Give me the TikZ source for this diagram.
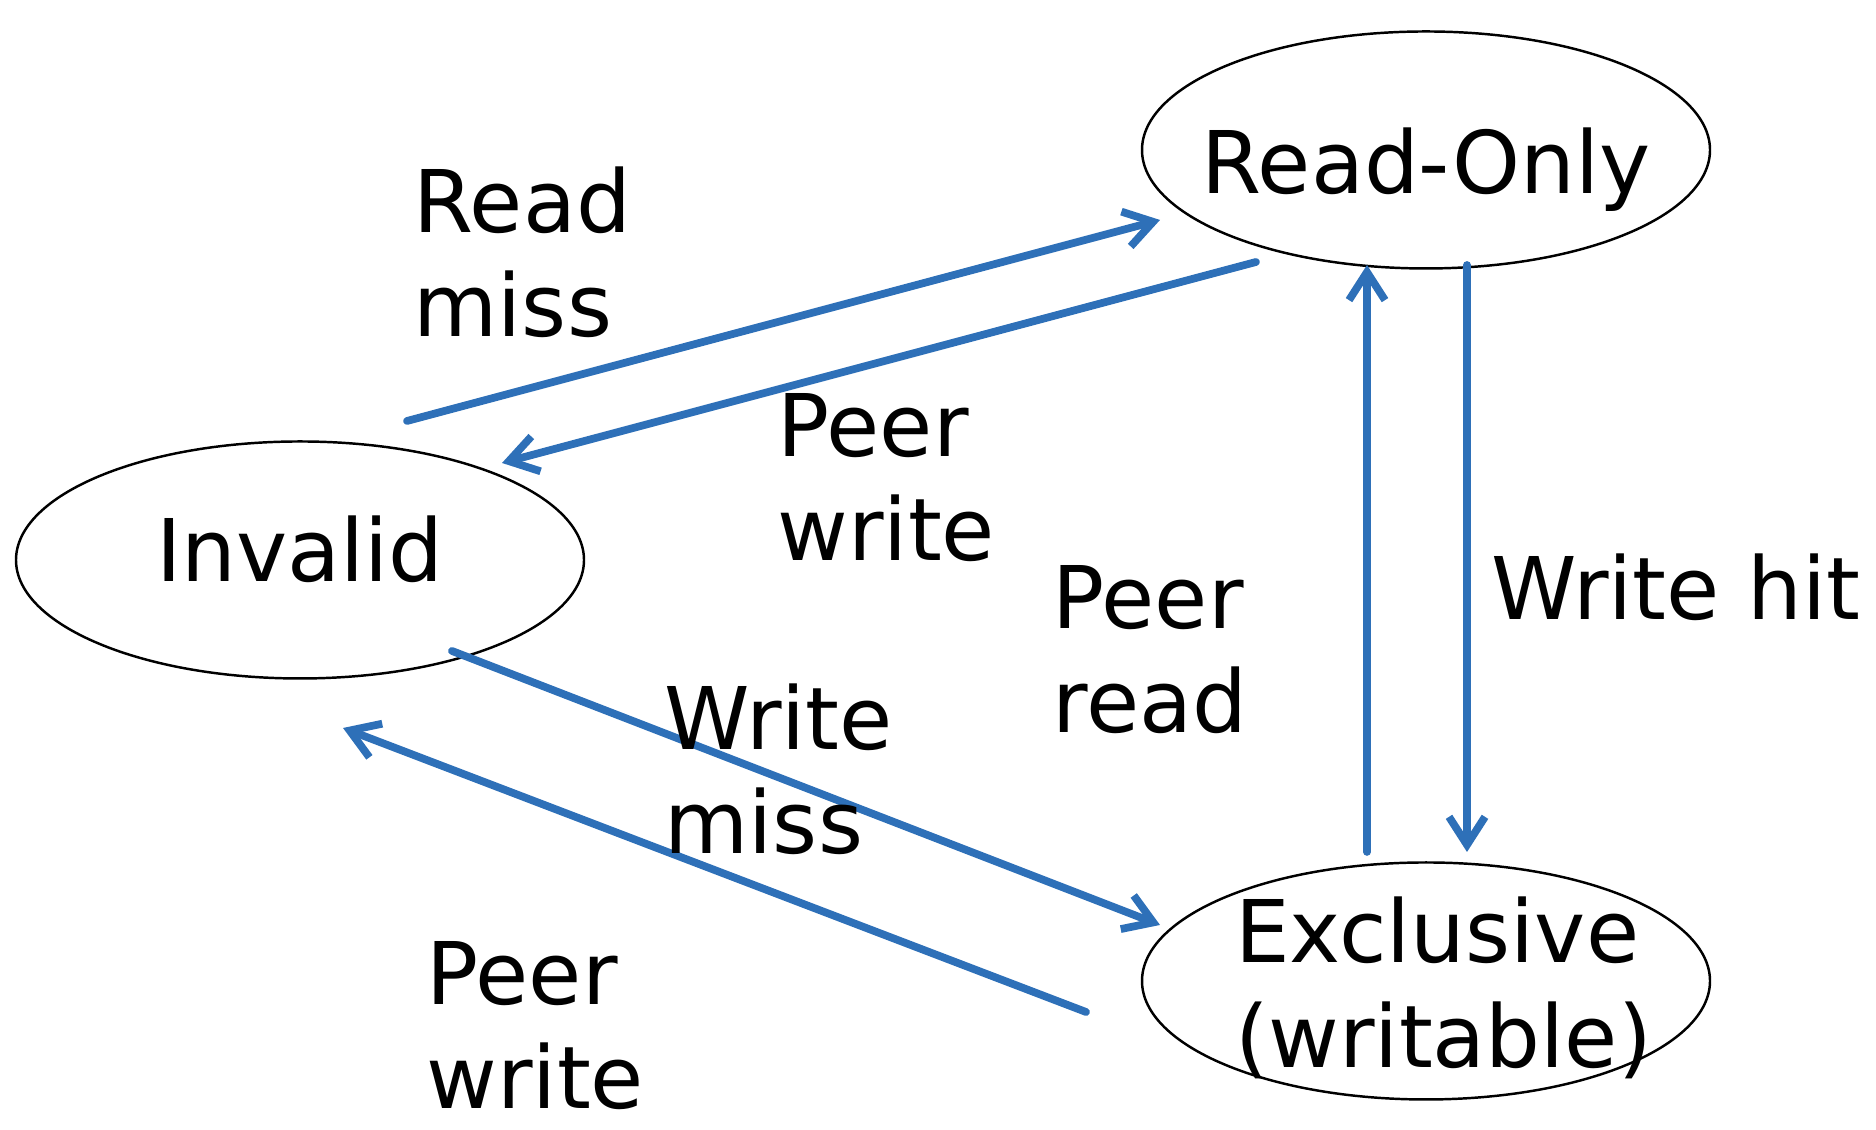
\documentclass[tikz,border=0pt]{standalone}
\usepackage{fontspec}
\setmainfont{DejaVu Sans}
\usepackage{xcolor}
\usepackage{tikz}
\usetikzlibrary{
	arrows.meta, calc, shapes.geometric
}
\definecolor{edgeblue}{RGB}{46,112,184}
\tikzset{
	state/.style={ellipse, draw, line width=0.7pt, minimum width=5.68cm, minimum height=2.37cm, inner xsep=-0.5cm, inner ysep=-0.1cm, text depth=0pt},
	trans/.style={draw=edgeblue, line width=2.2pt, -{Straight Barb[length=0.28cm, width=0.36cm]}},
	lbl/.style={anchor=base west, align=left, inner sep=0pt}
}
\begin{document}
\begin{tikzpicture}[line cap=round, line join=round, font=\fontsize{24.6}{29.6}\selectfont]
				\useasboundingbox (0,0) rectangle (18.76,11.30);
				
				\node[state, text height=0.88cm] (RO) at (14.26,9.80) {Read-Only};
				\node[state, text height=0.44cm] (INV) at (3.00,5.70) {Invalid};
				\node[state, align=left, text width=3.82cm, text height=0.30cm, text depth=0.66cm] (EX) at (14.26,1.49) {Exclusive\\(writable)};
				
				\coordinate (RM1) at (4.07,7.09);
				\coordinate (RM2) at (11.60,9.10);
				\coordinate (PW1) at (12.56,8.68);
				\coordinate (PW2) at (5.02,6.67);
				\coordinate (PR1) at (13.67,2.78);
				\coordinate (PR2) at (13.67,8.65);
				\coordinate (WH1) at (14.67,8.65);
				\coordinate (WH2) at (14.67,2.78);
				\coordinate (WM1) at (4.52,4.79);
				\coordinate (WM2) at (11.60,2.05);
				\coordinate (QW1) at (10.86,1.18);
				\coordinate (QW2) at (3.43,4.02);
				
				\draw[trans] (RM1)--(RM2);
				\draw[trans] (PW1)--(PW2);
				\draw[trans] (PR1)--(PR2);
				\draw[trans] (WH1)--(WH2);
				\draw[trans] (WM1)--(WM2);
				\draw[trans] (QW1)--(QW2);
				
				\node[lbl] (rmiss) at (4.13,7.93) {Read\\miss};
				\node[lbl] (pwrite) at (7.77,5.69) {Peer\\write};
				\node[lbl] (pread) at (10.52,3.97) {Peer\\read};
				\node[lbl] (whit) at (14.91,5.10) {Write hit};
				\node[lbl] (wmiss) at (6.64,2.76) {Write\\miss};
				\node[lbl] (pwrite2) at (4.26,0.21) {Peer\\write};
			\end{tikzpicture}
\end{document}
